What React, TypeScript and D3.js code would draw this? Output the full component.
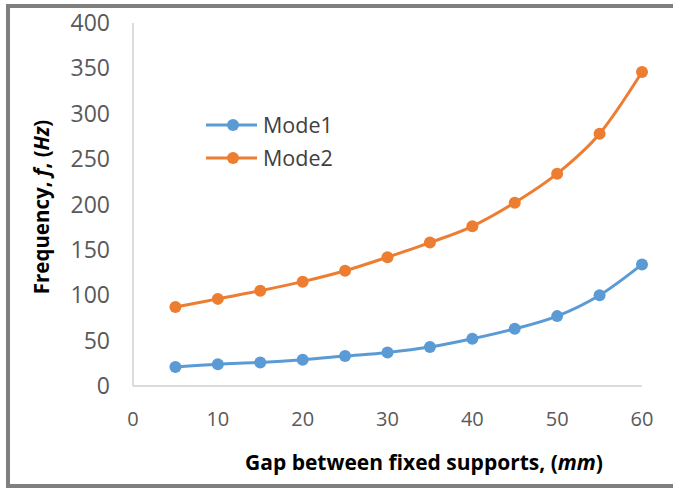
import React, { useRef, useEffect } from "react";
import * as d3 from "d3";

const gaps = [5, 10, 15, 20, 25, 30, 35, 40, 45, 50, 55, 60];
const mode1 = [21, 24, 26, 29, 33, 37, 43, 52, 63, 77, 100, 134];
const mode2 = [87, 96, 105, 115, 127, 142, 158, 176, 202, 234, 278, 346];
const xTicks = [0, 10, 20, 30, 40, 50, 60];
const yTicks = [0, 50, 100, 150, 200, 250, 300, 350, 400];
const seriesNames = ["Mode1", "Mode2"];
const colors = ["#5b9bd5", "#ed7d31"];

const W = 673,
  H = 488;

const App: React.FC = () => {
  const ref = useRef<SVGSVGElement>(null);

  useEffect(() => {
    const svg = d3.select(ref.current);
    svg.selectAll("*").remove();

    const margin = { top: 23, right: 31, bottom: 102, left: 133 };
    const x = d3.scaleLinear().domain([0, 60]).range([margin.left, W - margin.right]);
    const y = d3.scaleLinear().domain([0, 400]).range([H - margin.bottom, margin.top]);

    // outer frame
    svg
      .append("rect")
      .attr("x", 8)
      .attr("y", 6)
      .attr("width", W + 10)
      .attr("height", H - 8)
      .attr("fill", "#fff")
      .attr("stroke", "#7f7f7f")
      .attr("stroke-width", 4);

    const font = "'Open Sans', sans-serif";

    // axes lines
    svg
      .append("line")
      .attr("x1", x(0))
      .attr("x2", x(0))
      .attr("y1", y(400))
      .attr("y2", y(0))
      .attr("stroke", "#d0d0d0")
      .attr("stroke-width", 1.5);
    svg
      .append("line")
      .attr("x1", x(0))
      .attr("x2", x(60))
      .attr("y1", y(0))
      .attr("y2", y(0))
      .attr("stroke", "#d0d0d0")
      .attr("stroke-width", 1.5);

    // y tick labels
    svg
      .append("g")
      .selectAll("text")
      .data(yTicks)
      .enter()
      .append("text")
      .attr("x", 110)
      .attr("y", (d) => y(d))
      .attr("dy", "0.35em")
      .attr("text-anchor", "end")
      .style("font-family", font)
      .style("font-size", "23px")
      .style("fill", "#595959")
      .text((d) => d);

    // x tick labels
    svg
      .append("g")
      .selectAll("text")
      .data(xTicks)
      .enter()
      .append("text")
      .attr("x", (d) => x(d))
      .attr("y", 419)
      .attr("dy", "0.35em")
      .attr("text-anchor", "middle")
      .style("font-family", font)
      .style("font-size", "20px")
      .style("fill", "#595959")
      .text((d) => d);

    // series
    const all = [mode1, mode2];
    const line = d3
      .line<number>()
      .x((_, i) => x(gaps[i]))
      .y((d) => y(d))
      .curve(d3.curveCatmullRom.alpha(0));

    all.forEach((vals, s) => {
      svg
        .append("path")
        .datum(vals)
        .attr("fill", "none")
        .attr("stroke", colors[s])
        .attr("stroke-width", 3)
        .attr("d", line);
      svg
        .append("g")
        .selectAll("circle")
        .data(vals)
        .enter()
        .append("circle")
        .attr("cx", (_, i) => x(gaps[i]))
        .attr("cy", (d) => y(d))
        .attr("r", 6)
        .attr("fill", colors[s]);
    });

    // legend
    const legend = svg.append("g");
    seriesNames.forEach((name, s) => {
      const ly = 125 + s * 33;
      legend
        .append("line")
        .attr("x1", 206)
        .attr("x2", 257)
        .attr("y1", ly)
        .attr("y2", ly)
        .attr("stroke", colors[s])
        .attr("stroke-width", 3);
      legend
        .append("circle")
        .attr("cx", 233)
        .attr("cy", ly)
        .attr("r", 6)
        .attr("fill", colors[s]);
      legend
        .append("text")
        .attr("x", 263)
        .attr("y", ly)
        .attr("dy", "0.35em")
        .style("font-family", font)
        .style("font-size", "21.5px")
        .style("fill", "#404040")
        .text(name);
    });

    // x title
    const xt = svg
      .append("text")
      .attr("x", 424)
      .attr("y", 470)
      .attr("text-anchor", "middle")
      .style("font-family", font)
      .style("font-size", "21px")
      .style("font-weight", "bold")
      .style("fill", "#000");
    xt.append("tspan").text("Gap between fixed supports, (");
    xt.append("tspan").style("font-style", "italic").text("mm");
    xt.append("tspan").text(")");

    // y title
    const yt = svg
      .append("text")
      .attr("transform", "translate(49,207) rotate(-90)")
      .attr("text-anchor", "middle")
      .style("font-family", font)
      .style("font-size", "20.5px")
      .style("font-weight", "bold")
      .style("fill", "#000");
    yt.append("tspan").text("Frequency, ");
    yt.append("tspan").style("font-style", "italic").text("f");
    yt.append("tspan").text(", (");
    yt.append("tspan").style("font-style", "italic").text("Hz");
    yt.append("tspan").text(")");
  }, []);

  return (
    <svg
      ref={ref}
      width={W}
      height={H}
      style={{ position: "absolute", left: 0, top: 0, background: "#fff" }}
    />
  );
};

export default App;
